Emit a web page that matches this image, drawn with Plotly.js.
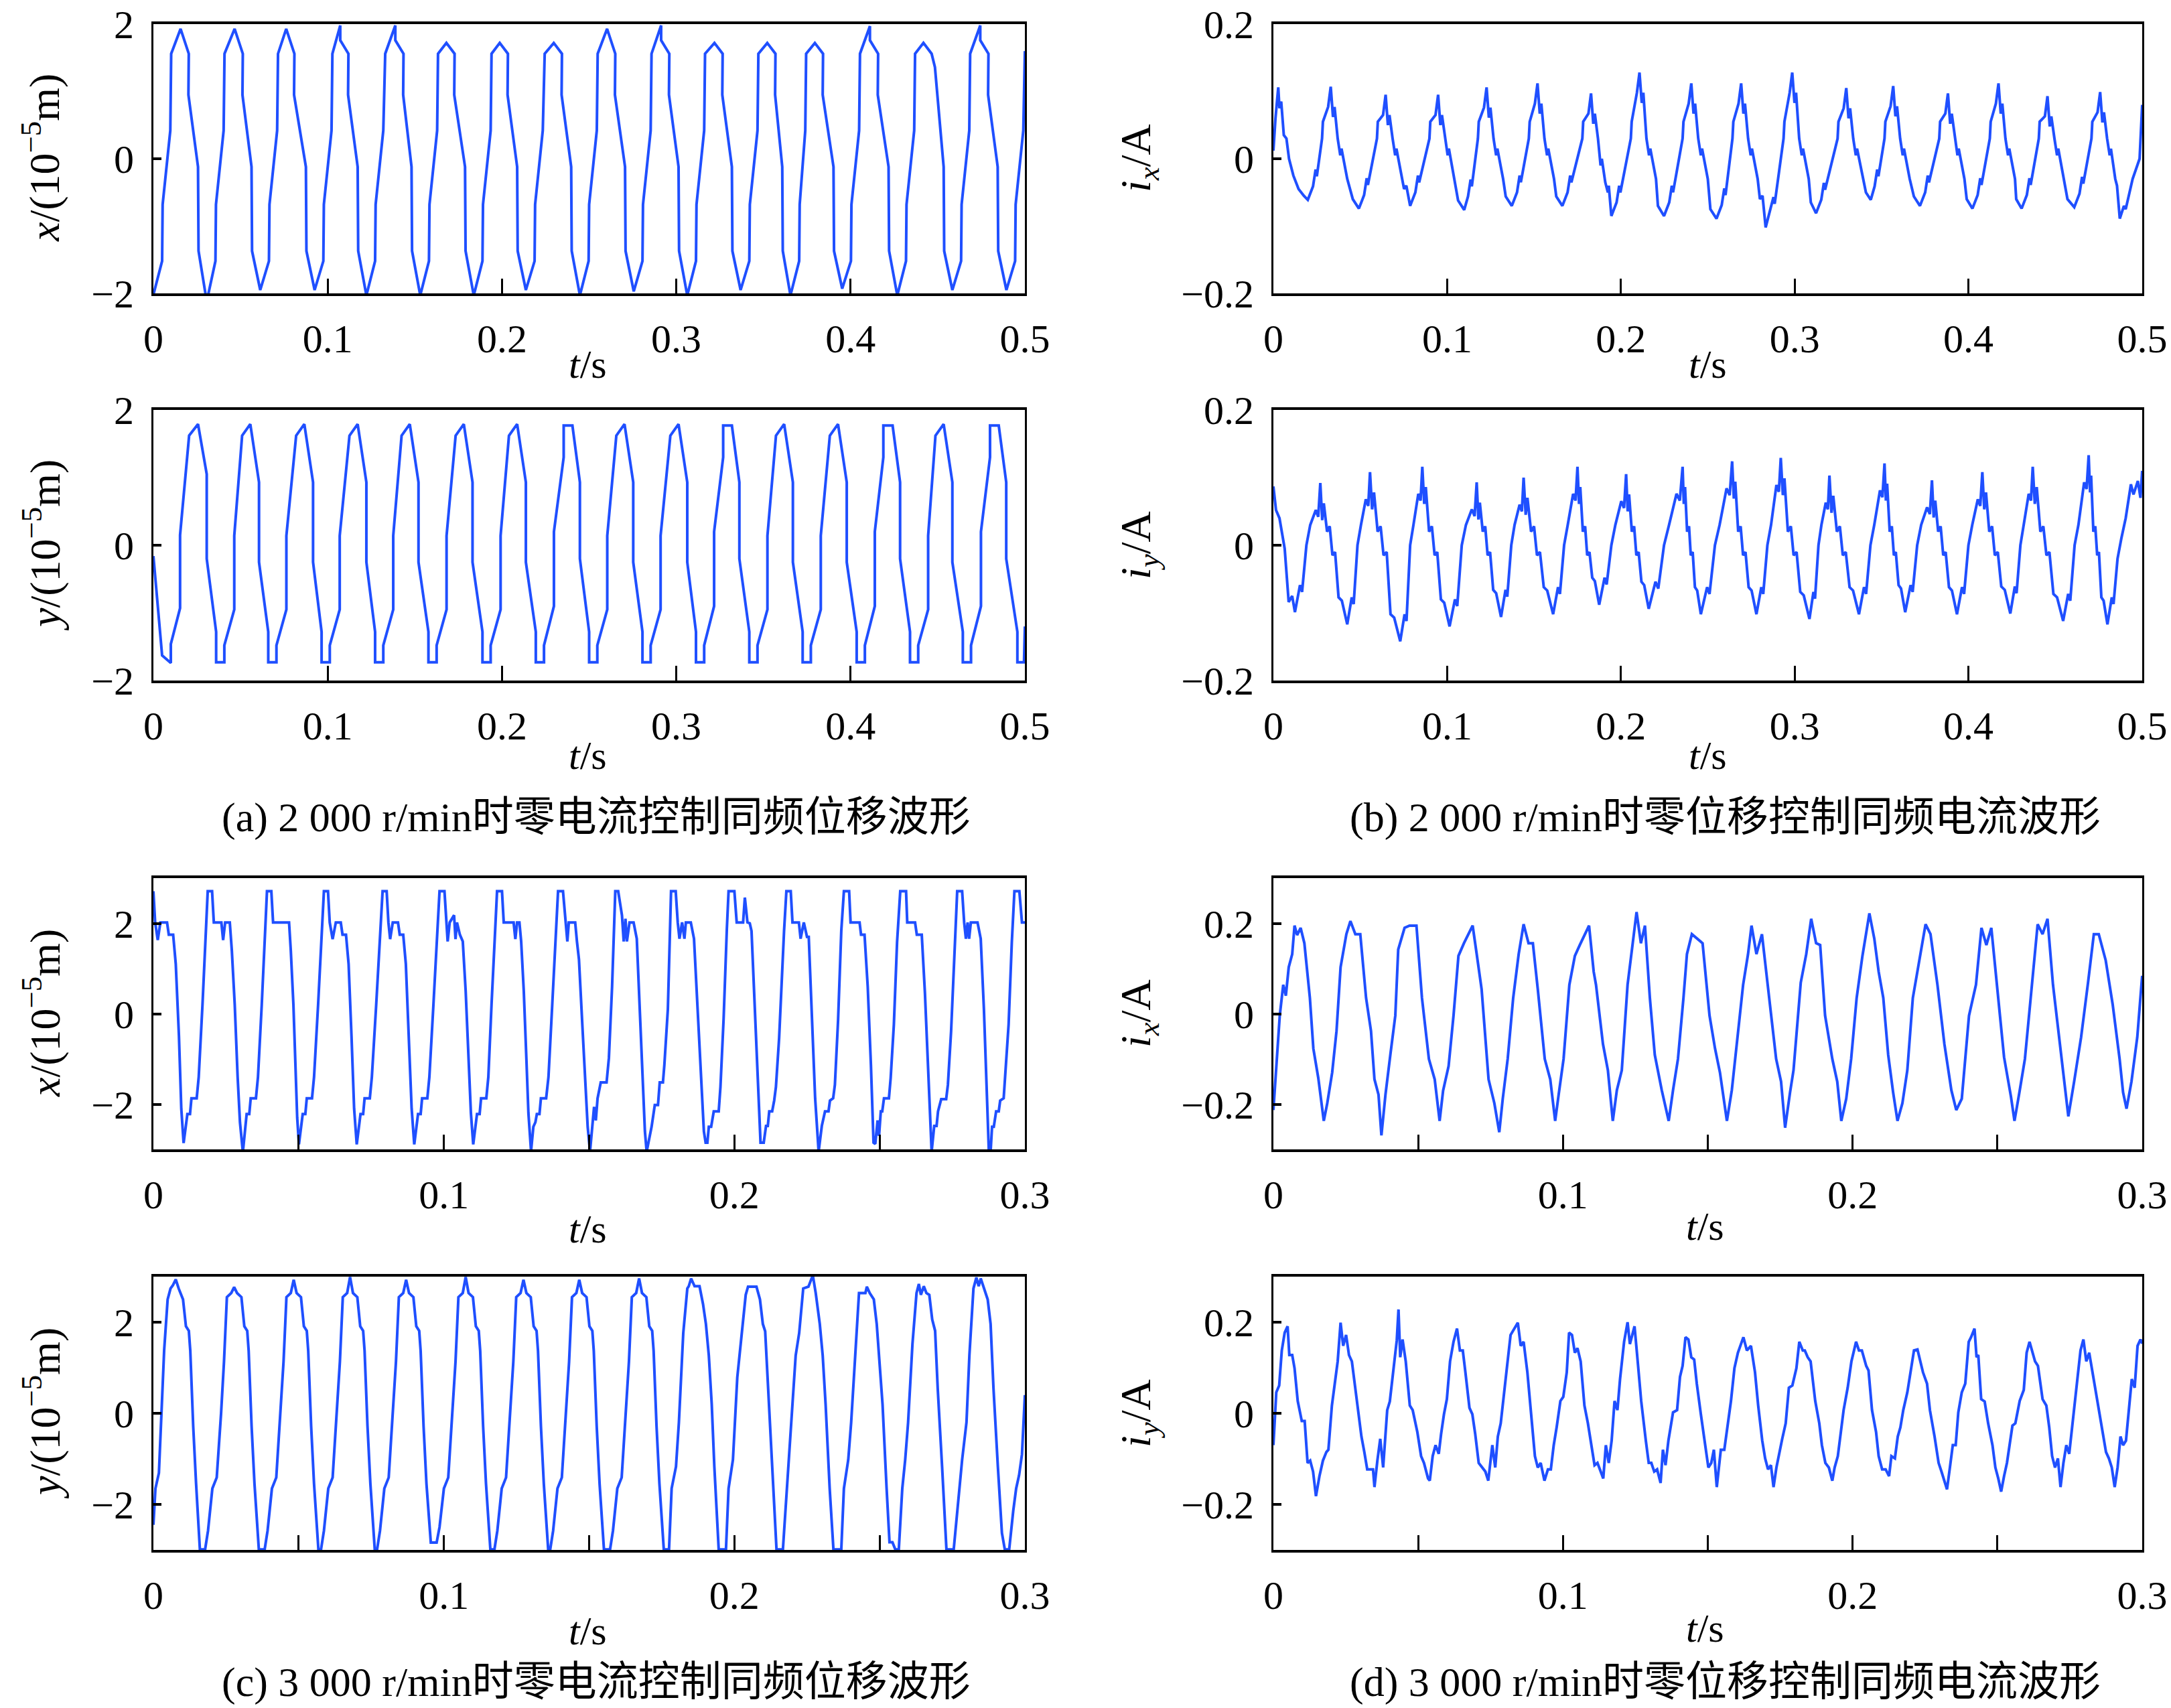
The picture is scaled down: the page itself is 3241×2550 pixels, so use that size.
<!DOCTYPE html>
<html>
<head>
<meta charset="utf-8">
<script src="https://cdn.plot.ly/plotly-3.0.1.min.js"></script>
<style>html,body{margin:0;padding:0;background:#fff;}#chart{width:3241px;height:2550px;}</style>
</head>
<body>
<div id="chart"></div>
<script>
// ---------- tick values / labels ----------
const tickT05 = [0, 0.1, 0.2, 0.3, 0.4, 0.5];
const tickT05Text = ['0', '0.1', '0.2', '0.3', '0.4', '0.5'];
const tickT03 = [0, 0.1, 0.2, 0.3];
const tickT03Text = ['0', '0.1', '0.2', '0.3'];
const tickT03Minor = [0.05, 0.15, 0.25];
const tickDisp = [-2, 0, 2];
const tickDispText = ['\u22122', '0', '2'];
const tickCur = [-0.2, 0, 0.2];
const tickCurText = ['\u22120.2', '0', '0.2'];

// ---------- (a) 2000 r/min, zero-current control: x displacement ----------
const a1Pts = [
[0,-2.02],[0.0050,-1.52],[0.0053,-0.68],[0.0097,0.42],[0.0102,1.56],[0.0156,1.93],[0.0203,1.56],[0.0201,0.95],[0.0256,-0.12],[0.0259,-1.37],[0.0306,-2.12],
[0.0356,-1.52],[0.0359,-0.68],[0.0403,0.42],[0.0408,1.56],[0.0466,1.93],[0.0513,1.56],[0.0511,0.95],[0.0563,-0.12],[0.0566,-1.37],[0.0613,-1.95],
[0.0663,-1.52],[0.0666,-0.68],[0.0710,0.42],[0.0715,1.56],[0.0762,1.93],[0.0809,1.56],[0.0807,0.95],[0.0875,-0.12],[0.0878,-1.37],[0.0925,-1.95],
[0.0975,-1.52],[0.0978,-0.68],[0.1022,0.42],[0.1027,1.56],[0.1072,1.98],[0.1072,1.76],[0.1119,1.56],[0.1117,0.95],[0.1172,-0.12],[0.1175,-1.37],[0.1222,-2.03],
[0.1272,-1.52],[0.1275,-0.68],[0.1319,0.42],[0.1330,1.56],[0.1388,1.98],[0.1388,1.76],[0.1435,1.56],[0.1433,0.95],[0.1481,-0.12],[0.1484,-1.37],[0.1531,-2.03],
[0.1581,-1.52],[0.1584,-0.68],[0.1628,0.42],[0.1633,1.56],[0.1681,1.72],[0.1728,1.56],[0.1726,0.95],[0.1788,-0.12],[0.1791,-1.37],[0.1838,-2.03],
[0.1888,-1.52],[0.1891,-0.68],[0.1935,0.42],[0.1940,1.56],[0.1987,1.72],[0.2034,1.56],[0.2032,0.95],[0.2087,-0.12],[0.2090,-1.37],[0.2137,-1.95],
[0.2187,-1.52],[0.2190,-0.68],[0.2234,0.42],[0.2245,1.56],[0.2297,1.72],[0.2344,1.56],[0.2342,0.95],[0.2397,-0.12],[0.2400,-1.37],[0.2447,-2.03],
[0.2497,-1.52],[0.2500,-0.68],[0.2544,0.42],[0.2549,1.56],[0.2603,1.93],[0.2650,1.56],[0.2648,0.95],[0.2706,-0.12],[0.2709,-1.37],[0.2756,-1.97],
[0.2806,-1.52],[0.2809,-0.68],[0.2853,0.42],[0.2858,1.56],[0.2913,1.98],[0.2913,1.76],[0.2960,1.56],[0.2958,0.95],[0.3013,-0.12],[0.3016,-1.37],[0.3063,-2.03],
[0.3113,-1.52],[0.3116,-0.68],[0.3160,0.42],[0.3165,1.56],[0.3219,1.72],[0.3266,1.56],[0.3264,0.95],[0.3319,-0.12],[0.3322,-1.37],[0.3369,-1.95],
[0.3419,-1.52],[0.3422,-0.68],[0.3466,0.42],[0.3471,1.56],[0.3522,1.72],[0.3569,1.56],[0.3567,0.95],[0.3608,-0.12],[0.3611,-1.37],[0.3655,-2.03],
[0.3705,-1.52],[0.3708,-0.68],[0.3740,0.42],[0.3745,1.56],[0.3795,1.72],[0.3842,1.56],[0.3840,0.95],[0.3902,-0.12],[0.3905,-1.37],[0.3952,-1.93],
[0.4002,-1.52],[0.4005,-0.68],[0.4049,0.42],[0.4054,1.56],[0.4111,1.97],[0.4111,1.76],[0.4158,1.56],[0.4156,0.95],[0.4218,-0.12],[0.4221,-1.37],[0.4268,-2.03],
[0.4318,-1.52],[0.4321,-0.68],[0.4365,0.42],[0.4370,1.56],[0.4418,1.72],[0.4465,1.56],[0.4484,1.36],[0.4534,-0.12],[0.4537,-1.37],[0.4584,-1.95],
[0.4634,-1.52],[0.4637,-0.68],[0.4681,0.42],[0.4686,1.56],[0.4744,1.98],[0.4744,1.76],[0.4791,1.56],[0.4789,0.95],[0.4844,-0.12],[0.4847,-1.37],[0.4894,-1.95],
[0.4944,-1.52],[0.4947,-0.68],[0.4991,0.42],[0.5,1.6]
];

// ---------- (a) y displacement ----------
const a2Pts = [
[0,-0.16],[0.005,-1.63],[0.0100,-1.74],[0.0100,-1.46],[0.0153,-0.93],[0.0153,0.15],[0.0205,1.62],[0.0256,1.79],
[0.0306,1.05],[0.0306,-0.2],[0.0360,-1.28],[0.0360,-1.73],[0.0407,-1.73],
[0.0407,-1.48],[0.0464,-0.95],[0.0464,0.14],[0.0509,1.62],[0.0556,1.79],
[0.0606,0.93],[0.0606,-0.25],[0.0659,-1.28],[0.0659,-1.73],[0.0706,-1.73],
[0.0706,-1.48],[0.0763,-0.95],[0.0763,0.14],[0.0819,1.62],[0.0866,1.79],
[0.0916,0.93],[0.0916,-0.25],[0.0965,-1.28],[0.0965,-1.73],[0.1012,-1.73],
[0.1012,-1.48],[0.1069,-0.95],[0.1069,0.14],[0.1125,1.62],[0.1172,1.79],
[0.1222,0.93],[0.1222,-0.25],[0.1272,-1.28],[0.1272,-1.73],[0.1319,-1.73],
[0.1319,-1.48],[0.1376,-0.95],[0.1376,0.14],[0.1424,1.62],[0.1471,1.79],
[0.1521,0.93],[0.1521,-0.25],[0.1578,-1.28],[0.1578,-1.73],[0.1625,-1.73],
[0.1625,-1.48],[0.1682,-0.95],[0.1682,0.14],[0.1734,1.62],[0.1781,1.79],
[0.1831,0.93],[0.1831,-0.25],[0.1888,-1.28],[0.1888,-1.73],[0.1935,-1.73],
[0.1935,-1.48],[0.1992,-0.95],[0.1992,0.14],[0.2040,1.62],[0.2087,1.79],
[0.2137,0.93],[0.2137,-0.25],[0.2194,-1.28],[0.2194,-1.73],[0.2241,-1.73],
[0.2241,-1.48],[0.2298,-0.9],[0.2298,0.2],[0.2354,1.3],[0.2354,1.77],[0.2404,1.77],
[0.2447,0.93],[0.2447,-0.2],[0.2500,-1.28],[0.2500,-1.73],[0.2547,-1.73],
[0.2547,-1.48],[0.2604,-0.95],[0.2604,0.14],[0.2656,1.62],[0.2703,1.79],
[0.2753,0.93],[0.2753,-0.25],[0.2806,-1.28],[0.2806,-1.73],[0.2853,-1.73],
[0.2853,-1.48],[0.2910,-0.95],[0.2910,0.14],[0.2966,1.62],[0.3013,1.79],
[0.3063,0.93],[0.3063,-0.25],[0.3113,-1.28],[0.3113,-1.73],[0.3160,-1.73],
[0.3160,-1.48],[0.3217,-0.9],[0.3217,0.2],[0.3269,1.3],[0.3269,1.77],[0.3319,1.77],
[0.3362,0.93],[0.3362,-0.2],[0.3419,-1.28],[0.3419,-1.73],[0.3466,-1.73],
[0.3466,-1.48],[0.3523,-0.95],[0.3523,0.14],[0.3572,1.62],[0.3619,1.79],
[0.3669,0.93],[0.3669,-0.25],[0.3725,-1.28],[0.3725,-1.73],[0.3772,-1.73],
[0.3772,-1.48],[0.3829,-0.95],[0.3829,0.14],[0.3881,1.62],[0.3928,1.79],
[0.3978,0.93],[0.3978,-0.25],[0.4035,-1.28],[0.4035,-1.73],[0.4082,-1.73],
[0.4082,-1.48],[0.4139,-0.9],[0.4139,0.2],[0.4188,1.3],[0.4188,1.77],[0.4241,1.77],
[0.4284,0.93],[0.4284,-0.2],[0.4341,-1.28],[0.4341,-1.73],[0.4388,-1.73],
[0.4388,-1.48],[0.4445,-0.95],[0.4445,0.14],[0.4487,1.62],[0.4534,1.79],
[0.4584,0.93],[0.4584,-0.25],[0.4644,-1.28],[0.4644,-1.73],[0.4691,-1.73],
[0.4691,-1.48],[0.4748,-0.9],[0.4748,0.2],[0.4800,1.3],[0.4800,1.77],[0.4850,1.77],
[0.4893,0.93],[0.4893,-0.2],[0.4957,-1.28],[0.4957,-1.73],[0.4995,-1.73],[0.5,-1.2]
];

// ---------- (b) 2000 r/min, zero-displacement control: i_x ----------
const b1Pts = [
[0,0.012],[0.0012,0.06],[0.0028,0.106],[0.0035,0.075],[0.0045,0.085],[0.006,0.035],[0.0075,0.03],[0.009,0.0],[0.0115,-0.025],[0.0145,-0.045],[0.0175,-0.055],
[0.0198,-0.061],[0.0228,-0.041],[0.0243,-0.016],[0.0250,-0.026],[0.0280,0.03],[0.0285,0.055],[0.0315,0.077],[0.0330,0.107],[0.0343,0.062],[0.0352,0.077],[0.0370,0.03],[0.0385,0.005],[0.0392,0.015],[0.0425,-0.03],[0.0457,-0.06],
[0.0492,-0.074],[0.0522,-0.054],[0.0537,-0.029],[0.0544,-0.039],[0.0596,0.03],[0.0601,0.055],[0.0631,0.065],[0.0646,0.095],[0.0659,0.05],[0.0668,0.065],[0.0686,0.03],[0.0701,0.005],[0.0708,0.015],[0.0741,-0.03],[0.0752,-0.045],[0.0765,-0.04],
[0.0787,-0.070],[0.0817,-0.05],[0.0832,-0.025],[0.0839,-0.035],[0.0898,0.03],[0.0903,0.055],[0.0933,0.065],[0.0948,0.095],[0.0961,0.05],[0.0970,0.065],[0.0988,0.03],[0.1003,0.005],[0.1010,0.015],[0.1043,-0.03],[0.1063,-0.062],
[0.1098,-0.076],[0.1120,-0.056],[0.1135,-0.031],[0.1142,-0.041],[0.1177,0.03],[0.1182,0.055],[0.1212,0.076],[0.1227,0.106],[0.1240,0.061],[0.1249,0.076],[0.1267,0.03],[0.1282,0.005],[0.1289,0.015],[0.1322,-0.03],[0.1337,-0.056],
[0.1372,-0.070],[0.1402,-0.05],[0.1417,-0.025],[0.1424,-0.035],[0.1470,0.03],[0.1475,0.055],[0.1505,0.082],[0.1520,0.112],[0.1533,0.067],[0.1542,0.082],[0.1560,0.03],[0.1575,0.005],[0.1582,0.015],[0.1615,-0.03],[0.1628,-0.056],
[0.1663,-0.070],[0.1693,-0.05],[0.1708,-0.025],[0.1715,-0.035],[0.1778,0.03],[0.1783,0.055],[0.1813,0.067],[0.1828,0.097],[0.1841,0.052],[0.1850,0.067],[0.1868,0.03],[0.1883,-0.01],[0.1890,0.0],[0.1910,-0.035],[0.1925,-0.05],[0.1930,-0.04],
[0.1945,-0.085],[0.1975,-0.065],[0.1990,-0.04],[0.1997,-0.05],[0.2057,0.03],[0.2062,0.055],[0.2092,0.098],[0.2107,0.128],[0.2120,0.083],[0.2129,0.098],[0.2147,0.03],[0.2162,0.005],[0.2169,0.015],[0.2202,-0.03],[0.2213,-0.07],
[0.2248,-0.085],[0.2278,-0.065],[0.2293,-0.04],[0.2300,-0.05],[0.2355,0.03],[0.2360,0.055],[0.2390,0.082],[0.2405,0.112],[0.2418,0.067],[0.2427,0.082],[0.2445,0.03],[0.2460,0.005],[0.2467,0.015],[0.2500,-0.03],[0.2515,-0.075],
[0.2550,-0.089],[0.2580,-0.069],[0.2595,-0.044],[0.2602,-0.054],[0.2642,0.03],[0.2647,0.055],[0.2677,0.082],[0.2692,0.112],[0.2705,0.067],[0.2714,0.082],[0.2732,0.03],[0.2747,0.005],[0.2754,0.015],[0.2787,-0.03],[0.2800,-0.06],[0.2815,-0.055],
[0.2833,-0.102],[0.2863,-0.072],[0.2878,-0.057],[0.2885,-0.067],[0.2936,0.03],[0.2941,0.055],[0.2971,0.098],[0.2986,0.128],[0.2999,0.083],[0.3008,0.098],[0.3026,0.03],[0.3041,0.005],[0.3048,0.015],[0.3081,-0.03],[0.3093,-0.065],
[0.3123,-0.081],[0.3153,-0.061],[0.3168,-0.036],[0.3175,-0.046],[0.3247,0.03],[0.3252,0.055],[0.3282,0.075],[0.3297,0.105],[0.3310,0.06],[0.3319,0.075],[0.3337,0.03],[0.3352,0.005],[0.3359,0.015],[0.3392,-0.03],[0.3410,-0.05],
[0.3438,-0.061],[0.3460,-0.041],[0.3475,-0.016],[0.3482,-0.026],[0.3517,0.03],[0.3522,0.055],[0.3552,0.078],[0.3567,0.108],[0.3580,0.063],[0.3589,0.078],[0.3607,0.03],[0.3622,0.005],[0.3629,0.015],[0.3662,-0.03],[0.3686,-0.056],
[0.3721,-0.070],[0.3751,-0.05],[0.3766,-0.025],[0.3773,-0.035],[0.3832,0.03],[0.3837,0.055],[0.3867,0.067],[0.3882,0.097],[0.3895,0.052],[0.3904,0.067],[0.3922,0.03],[0.3937,0.005],[0.3944,0.015],[0.3977,-0.03],[0.3990,-0.06],
[0.4023,-0.074],[0.4053,-0.054],[0.4068,-0.029],[0.4075,-0.039],[0.4123,0.03],[0.4128,0.055],[0.4158,0.082],[0.4173,0.112],[0.4186,0.067],[0.4195,0.082],[0.4213,0.03],[0.4228,0.005],[0.4235,0.015],[0.4268,-0.03],[0.4275,-0.06],
[0.4306,-0.074],[0.4336,-0.054],[0.4351,-0.029],[0.4358,-0.039],[0.4405,0.03],[0.4410,0.055],[0.4440,0.063],[0.4455,0.093],[0.4468,0.048],[0.4477,0.063],[0.4495,0.03],[0.4510,0.005],[0.4517,0.015],[0.4550,-0.03],[0.4570,-0.06],
[0.4609,-0.072],[0.4639,-0.052],[0.4654,-0.027],[0.4661,-0.037],[0.4708,0.03],[0.4713,0.055],[0.4743,0.069],[0.4758,0.099],[0.4771,0.054],[0.4780,0.069],[0.4798,0.03],[0.4813,0.005],[0.4820,0.015],[0.4845,-0.03],[0.4855,-0.04],
[0.4871,-0.089],[0.4895,-0.07],[0.4905,-0.075],[0.4945,-0.03],[0.4975,-0.005],[0.4985,0.0],[0.5,0.08]
];

// ---------- (b) i_y ----------
const b2Pts = [
[0,0.087],[0.0015,0.052],[0.0035,0.04],[0.0065,-0.005],[0.0088,-0.084],[0.0108,-0.075],[0.0124,-0.099],
[0.0153,-0.059],[0.0165,-0.069],[0.0190,0.0],[0.0212,0.03],[0.0244,0.052],[0.0258,0.042],[0.0270,0.092],[0.0281,0.037],[0.0290,0.062],[0.0309,0.02],[0.0324,0.028],[0.0340,-0.015],[0.0355,-0.01],[0.0375,-0.077],[0.0394,-0.082],[0.0425,-0.117],
[0.0451,-0.077],[0.0462,-0.087],[0.0484,0.0],[0.0504,0.03],[0.0532,0.068],[0.0546,0.058],[0.0556,0.108],[0.0568,0.053],[0.0579,0.078],[0.0600,0.02],[0.0617,0.028],[0.0634,-0.015],[0.0652,-0.01],[0.0674,-0.102],[0.0695,-0.107],[0.0730,-0.142],
[0.0755,-0.102],[0.0766,-0.112],[0.0787,0.0],[0.0806,0.03],[0.0834,0.076],[0.0847,0.066],[0.0857,0.116],[0.0868,0.061],[0.0877,0.086],[0.0896,0.02],[0.0912,0.028],[0.0928,-0.015],[0.0943,-0.01],[0.0964,-0.08],[0.0983,-0.085],[0.1014,-0.120],
[0.1045,-0.08],[0.1058,-0.09],[0.1084,0.0],[0.1108,0.03],[0.1142,0.053],[0.1158,0.043],[0.1170,0.093],[0.1180,0.038],[0.1188,0.063],[0.1205,0.02],[0.1219,0.028],[0.1233,-0.015],[0.1247,-0.01],[0.1265,-0.066],[0.1282,-0.071],[0.1310,-0.106],
[0.1336,-0.066],[0.1346,-0.076],[0.1369,0.0],[0.1388,0.03],[0.1417,0.06],[0.1430,0.05],[0.1440,0.1],[0.1452,0.045],[0.1462,0.07],[0.1483,0.02],[0.1500,0.028],[0.1517,-0.015],[0.1534,-0.01],[0.1556,-0.062],[0.1576,-0.067],[0.1610,-0.102],
[0.1638,-0.062],[0.1649,-0.072],[0.1673,0.0],[0.1694,0.03],[0.1725,0.076],[0.1739,0.066],[0.1750,0.116],[0.1759,0.061],[0.1766,0.086],[0.1781,0.02],[0.1794,0.028],[0.1806,-0.015],[0.1819,-0.01],[0.1835,-0.048],[0.1850,-0.053],[0.1875,-0.088],
[0.1906,-0.048],[0.1918,-0.058],[0.1945,0.0],[0.1968,0.03],[0.2002,0.065],[0.2018,0.055],[0.2030,0.105],[0.2039,0.05],[0.2047,0.075],[0.2063,0.02],[0.2076,0.028],[0.2089,-0.015],[0.2102,-0.01],[0.2118,-0.054],[0.2134,-0.059],[0.2160,-0.094],
[0.2199,-0.054],[0.2215,-0.064],[0.2248,0.0],[0.2277,0.03],[0.2320,0.076],[0.2339,0.066],[0.2355,0.116],[0.2362,0.061],[0.2369,0.086],[0.2381,0.02],[0.2392,0.028],[0.2402,-0.015],[0.2413,-0.01],[0.2426,-0.062],[0.2439,-0.067],[0.2460,-0.102],
[0.2496,-0.062],[0.2510,-0.072],[0.2541,0.0],[0.2568,0.03],[0.2608,0.084],[0.2626,0.074],[0.2640,0.124],[0.2650,0.069],[0.2658,0.094],[0.2675,0.02],[0.2689,0.028],[0.2703,-0.015],[0.2717,-0.01],[0.2735,-0.062],[0.2752,-0.067],[0.2780,-0.102],
[0.2808,-0.062],[0.2819,-0.072],[0.2843,0.0],[0.2864,0.03],[0.2895,0.089],[0.2909,0.079],[0.2920,0.129],[0.2932,0.074],[0.2941,0.099],[0.2961,0.02],[0.2978,0.028],[0.2994,-0.015],[0.3011,-0.01],[0.3032,-0.069],[0.3052,-0.074],[0.3085,-0.109],
[0.3108,-0.069],[0.3117,-0.079],[0.3137,0.0],[0.3154,0.03],[0.3179,0.063],[0.3191,0.053],[0.3200,0.103],[0.3212,0.048],[0.3222,0.073],[0.3243,0.02],[0.3260,0.028],[0.3277,-0.015],[0.3294,-0.01],[0.3316,-0.062],[0.3336,-0.067],[0.3370,-0.102],
[0.3399,-0.062],[0.3411,-0.072],[0.3436,0.0],[0.3458,0.03],[0.3491,0.081],[0.3505,0.071],[0.3517,0.121],[0.3525,0.066],[0.3532,0.091],[0.3547,0.02],[0.3559,0.028],[0.3571,-0.015],[0.3582,-0.01],[0.3598,-0.059],[0.3612,-0.064],[0.3636,-0.099],
[0.3667,-0.059],[0.3679,-0.069],[0.3705,0.0],[0.3728,0.03],[0.3762,0.056],[0.3778,0.046],[0.3790,0.096],[0.3800,0.041],[0.3809,0.066],[0.3826,0.02],[0.3840,0.028],[0.3855,-0.015],[0.3869,-0.01],[0.3888,-0.062],[0.3905,-0.067],[0.3934,-0.102],
[0.3963,-0.062],[0.3975,-0.072],[0.4000,0.0],[0.4022,0.03],[0.4054,0.068],[0.4068,0.058],[0.4080,0.108],[0.4091,0.053],[0.4101,0.078],[0.4120,0.02],[0.4136,0.028],[0.4152,-0.015],[0.4169,-0.01],[0.4189,-0.061],[0.4209,-0.066],[0.4241,-0.101],
[0.4267,-0.061],[0.4277,-0.071],[0.4299,0.0],[0.4318,0.03],[0.4347,0.076],[0.4360,0.066],[0.4370,0.116],[0.4382,0.061],[0.4393,0.086],[0.4414,0.02],[0.4431,0.028],[0.4449,-0.015],[0.4466,-0.01],[0.4489,-0.072],[0.4510,-0.077],[0.4545,-0.112],
[0.4574,-0.072],[0.4586,-0.082],[0.4611,0.0],[0.4633,0.03],[0.4666,0.093],[0.4680,0.083],[0.4692,0.133],[0.4700,0.078],[0.4706,0.103],[0.4719,0.02],[0.4730,0.028],[0.4741,-0.015],[0.4751,-0.01],[0.4765,-0.077],[0.4778,-0.082],[0.4800,-0.117],
[0.4825,-0.077],[0.4835,-0.087],[0.4858,-0.02],[0.4880,0.01],[0.4905,0.04],[0.4935,0.09],[0.4950,0.075],[0.4975,0.095],[0.4990,0.07],[0.5,0.11]
];

// ---------- (c) 3000 r/min, zero-current control: x displacement ----------
const c1Pts = [
[0,2.71],[0.0006,2.02],[0.0015,1.63],[0.0024,2.02],[0.0047,2.02],[0.0053,1.75],[0.0068,1.75],[0.0077,1.1],[0.0088,-0.5],[0.0096,-2.1],[0.0104,-2.86],
[0.0112,-2.45],[0.0117,-2.22],[0.0126,-2.22],[0.0131,-1.87],[0.0149,-1.87],[0.0156,-1.4],[0.0169,0.2],[0.0179,1.5],[0.0187,2.71],
[0.0202,2.71],[0.0208,2.02],[0.0234,2.02],[0.0240,1.63],[0.0247,2.02],[0.0263,2.02],[0.0270,1.4],[0.0280,0.2],[0.0290,-1.4],[0.0298,-2.4],[0.0308,-3.06],
[0.0316,-2.5],[0.0321,-2.22],[0.0330,-2.22],[0.0335,-1.87],[0.0353,-1.87],[0.0360,-1.4],[0.0373,0.2],[0.0383,1.5],[0.0391,2.71],
[0.0406,2.71],[0.0412,2.02],[0.0467,2.02],[0.0473,1.4],[0.0482,0.2],[0.0490,-1.4],[0.0495,-2.3],[0.0501,-2.89],
[0.0509,-2.45],[0.0514,-2.22],[0.0523,-2.22],[0.0528,-1.87],[0.0546,-1.87],[0.0553,-1.4],[0.0567,0.2],[0.0578,1.5],[0.0587,2.71],
[0.0601,2.71],[0.0607,2.02],[0.0617,1.65],[0.0628,2.02],[0.0645,2.02],[0.0651,1.75],[0.0663,1.75],[0.0672,1.1],[0.0682,-0.5],[0.0691,-2.1],[0.0700,-2.89],
[0.0708,-2.45],[0.0713,-2.22],[0.0722,-2.22],[0.0727,-1.87],[0.0745,-1.87],[0.0752,-1.4],[0.0767,0.2],[0.0779,1.5],[0.0789,2.71],
[0.0803,2.71],[0.0809,2.02],[0.0815,1.65],[0.0824,2.02],[0.0842,2.02],[0.0848,1.75],[0.0860,1.75],[0.0869,1.1],[0.0879,-0.5],[0.0889,-2.1],[0.0898,-2.89],
[0.0906,-2.45],[0.0911,-2.22],[0.0920,-2.22],[0.0925,-1.87],[0.0943,-1.87],[0.0950,-1.4],[0.0964,0.2],[0.0975,1.5],[0.0985,2.71],
[0.1002,2.71],[0.1008,2.02],[0.1013,1.6],[0.1020,2.02],[0.1035,2.18],[0.1040,1.65],[0.1045,2.02],[0.1055,1.75],[0.1065,1.6],[0.1075,0.5],[0.1085,-1.0],[0.1093,-2.2],[0.1101,-2.89],
[0.1109,-2.45],[0.1114,-2.22],[0.1123,-2.22],[0.1128,-1.87],[0.1146,-1.87],[0.1153,-1.4],[0.1164,0.2],[0.1174,1.5],[0.1183,2.71],
[0.1200,2.71],[0.1206,2.02],[0.1240,2.02],[0.1246,1.65],[0.1252,2.02],[0.1260,2.02],[0.1266,1.6],[0.1275,0.5],[0.1284,-1.0],[0.1291,-2.2],[0.1300,-3.04],
[0.1308,-2.5],[0.1315,-2.4],[0.1320,-2.22],[0.1329,-2.22],[0.1334,-1.87],[0.1352,-1.87],[0.1360,-1.4],[0.1373,0.2],[0.1384,1.5],[0.1393,2.71],
[0.1410,2.71],[0.1420,2.02],[0.1425,1.6],[0.1430,2.02],[0.1452,2.02],[0.1458,1.6],[0.1465,1.2],[0.1477,-0.3],[0.1487,-1.5],[0.1495,-2.5],[0.1503,-3.05],
[0.1512,-2.3],[0.1517,-2.06],[0.1523,-2.36],[0.1529,-1.87],[0.1540,-1.52],[0.1560,-1.52],[0.1568,-0.98],[0.1579,0.6],[0.1590,2.71],
[0.1600,2.71],[0.1613,2.18],[0.1619,1.6],[0.1625,2.1],[0.1630,1.6],[0.1639,2.02],[0.1653,2.02],[0.1664,1.66],[0.1675,0.1],[0.1686,-1.62],[0.1692,-2.6],[0.1698,-3.05],
[0.1715,-2.5],[0.1726,-2.02],[0.1737,-2.02],[0.1743,-1.52],[0.1754,-1.52],[0.1759,-1.13],[0.1771,0.1],[0.1782,2.71],
[0.1798,2.71],[0.1805,2.02],[0.1811,1.66],[0.1820,2.02],[0.1828,1.66],[0.1833,2.02],[0.1850,2.02],[0.1861,1.66],[0.1873,0.1],[0.1884,-1.37],[0.1895,-2.6],[0.1901,-2.85],[0.1907,-2.85],
[0.1912,-2.5],[0.1920,-2.5],[0.1929,-2.16],[0.1946,-2.16],[0.1952,-1.62],[0.1963,-0.1],[0.1974,1.87],[0.1980,2.71],
[0.2000,2.71],[0.2008,2.02],[0.2030,2.02],[0.2036,2.57],[0.2045,2.02],[0.2053,2.0],[0.2059,1.83],[0.2070,0.1],[0.2081,-1.62],[0.2090,-2.85],[0.2101,-2.85],
[0.2109,-2.48],[0.2115,-2.48],[0.2120,-2.16],[0.2130,-2.16],[0.2137,-1.92],[0.2143,-1.62],[0.2154,-0.54],[0.2171,1.83],[0.2179,2.71],
[0.2194,2.71],[0.2200,2.02],[0.2222,2.02],[0.2228,1.66],[0.2239,2.02],[0.2250,1.7],[0.2256,1.7],[0.2267,-0.14],[0.2278,-1.87],[0.2290,-3.05],
[0.2301,-2.48],[0.2312,-2.16],[0.2324,-2.16],[0.2329,-1.92],[0.2340,-1.87],[0.2346,-1.57],[0.2357,-0.14],[0.2368,1.83],[0.2377,2.71],
[0.2395,2.71],[0.2400,2.02],[0.2431,2.02],[0.2436,1.75],[0.2448,1.75],[0.2459,0.6],[0.2470,-1.13],[0.2479,-2.85],[0.2485,-2.88],
[0.2493,-2.36],[0.2498,-2.7],[0.2504,-2.16],[0.2509,-2.16],[0.2515,-1.87],[0.2532,-1.87],[0.2538,-1.42],[0.2549,-0.24],[0.2560,1.58],[0.2571,2.71],
[0.2591,2.71],[0.2595,2.02],[0.2622,2.02],[0.2628,1.75],[0.2645,1.75],[0.2656,0.45],[0.2667,-1.37],[0.2679,-3.05],
[0.2688,-2.48],[0.2696,-2.48],[0.2701,-2.16],[0.2712,-1.89],[0.2729,-1.89],[0.2735,-1.57],[0.2746,-0.39],[0.2758,1.58],[0.2767,2.71],
[0.2784,2.71],[0.2791,2.02],[0.2797,1.66],[0.2803,2.02],[0.2808,1.66],[0.2814,2.02],[0.2837,2.02],[0.2848,1.66],[0.2859,0.1],[0.2868,-1.62],[0.2876,-3.05],
[0.2882,-3.05],[0.2887,-2.5],[0.2893,-2.5],[0.2901,-2.16],[0.2910,-2.16],[0.2915,-1.92],[0.2927,-1.87],[0.2932,-1.42],[0.2944,-0.24],[0.2955,1.58],[0.2964,2.71],
[0.2981,2.71],[0.2990,2.02],[0.3,2.02]
];

// ---------- (c) y displacement ----------
const c2Pts = [
[0,-2.45],[0.0007,-1.65],[0.0019,-1.31],[0.0027,-0.19],[0.0037,1.38],[0.0049,2.5],[0.0059,2.74],[0.0067,2.81],[0.0077,2.94],
[0.0087,2.74],[0.0102,2.5],[0.0112,1.91],[0.0122,1.81],[0.0127,1.37],[0.0137,-0.28],[0.0147,-1.55],[0.0160,-2.99],
[0.0178,-2.99],[0.0188,-2.58],[0.0203,-1.65],[0.0218,-1.41],[0.0233,0.0],[0.0243,1.13],[0.0253,2.55],[0.0268,2.64],[0.0278,2.77],
[0.0288,2.64],[0.0303,2.55],[0.0313,1.91],[0.0323,1.81],[0.0328,1.37],[0.0338,-0.28],[0.0348,-1.55],[0.0363,-2.99],
[0.0383,-2.99],[0.0393,-2.58],[0.0408,-1.65],[0.0423,-1.41],[0.0438,0.0],[0.0448,1.13],[0.0458,2.55],[0.0473,2.64],[0.0483,2.93],
[0.0493,2.64],[0.0508,2.55],[0.0518,1.91],[0.0528,1.81],[0.0533,1.37],[0.0543,-0.28],[0.0553,-1.55],[0.0568,-2.99],
[0.0577,-2.99],[0.0587,-2.58],[0.0602,-1.65],[0.0617,-1.41],[0.0632,0.0],[0.0642,1.13],[0.0652,2.55],[0.0667,2.64],[0.0677,2.99],
[0.0687,2.64],[0.0702,2.55],[0.0712,1.91],[0.0722,1.81],[0.0727,1.37],[0.0737,-0.28],[0.0747,-1.55],[0.0762,-2.99],
[0.0770,-2.99],[0.0780,-2.58],[0.0795,-1.65],[0.0810,-1.41],[0.0825,0.0],[0.0835,1.13],[0.0845,2.55],[0.0860,2.64],[0.0870,2.93],
[0.0880,2.64],[0.0895,2.55],[0.0905,1.91],[0.0915,1.81],[0.0920,1.37],[0.0930,-0.28],[0.0940,-1.55],[0.0955,-2.84],
[0.0975,-2.84],[0.0985,-2.5],[0.1000,-1.65],[0.1015,-1.41],[0.1030,0.0],[0.1040,1.13],[0.1050,2.55],[0.1065,2.64],[0.1075,2.99],
[0.1085,2.64],[0.1100,2.55],[0.1110,1.91],[0.1120,1.81],[0.1125,1.37],[0.1135,-0.28],[0.1145,-1.55],[0.1160,-2.99],
[0.1174,-2.99],[0.1184,-2.58],[0.1199,-1.65],[0.1214,-1.41],[0.1229,0.0],[0.1239,1.13],[0.1249,2.55],[0.1264,2.64],[0.1274,2.93],
[0.1284,2.64],[0.1299,2.55],[0.1309,1.91],[0.1319,1.81],[0.1324,1.37],[0.1334,-0.28],[0.1344,-1.55],[0.1359,-2.99],
[0.1366,-2.99],[0.1376,-2.58],[0.1391,-1.65],[0.1406,-1.41],[0.1421,0.0],[0.1431,1.13],[0.1441,2.55],[0.1456,2.64],[0.1466,2.93],
[0.1476,2.64],[0.1491,2.55],[0.1501,1.91],[0.1511,1.81],[0.1516,1.37],[0.1526,-0.28],[0.1536,-1.55],[0.1551,-2.99],
[0.1572,-2.99],[0.1582,-2.58],[0.1597,-1.65],[0.1612,-1.41],[0.1627,0.0],[0.1637,1.13],[0.1647,2.55],[0.1662,2.64],[0.1672,2.96],
[0.1682,2.64],[0.1697,2.55],[0.1707,1.91],[0.1717,1.81],[0.1722,1.37],[0.1732,-0.28],[0.1742,-1.55],[0.1757,-2.99],
[0.1775,-2.99],[0.1784,-1.65],[0.1799,-1.17],[0.1809,-0.2],[0.1824,1.76],[0.1838,2.74],[0.1843,2.79],[0.1851,2.96],
[0.1863,2.79],[0.1880,2.79],[0.1892,2.4],[0.1902,1.96],[0.1912,1.27],[0.1922,0.2],[0.1931,-1.17],[0.1946,-2.99],
[0.1971,-2.99],[0.1980,-1.65],[0.1995,-1.02],[0.2010,0.79],[0.2025,1.76],[0.2039,2.6],[0.2047,2.78],[0.2076,2.78],
[0.2088,2.5],[0.2098,1.96],[0.2106,1.8],[0.2118,0.3],[0.2132,-1.65],[0.2145,-2.99],
[0.2167,-2.99],[0.2176,-2.14],[0.2186,-1.17],[0.2196,-0.2],[0.2211,1.27],[0.2223,1.76],[0.2237,2.74],[0.2255,2.78],[0.2270,3.03],
[0.2280,2.64],[0.2294,1.96],[0.2304,1.27],[0.2314,0.2],[0.2328,-1.65],[0.2341,-2.99],
[0.2368,-2.99],[0.2377,-1.65],[0.2392,-1.02],[0.2402,-0.2],[0.2416,1.27],[0.2429,2.64],[0.2451,2.64],[0.2456,2.78],[0.2466,2.64],
[0.2480,2.5],[0.2490,1.96],[0.2500,1.17],[0.2510,0.2],[0.2524,-1.65],[0.2534,-2.83],[0.2544,-2.83],[0.2554,-2.99],[0.2566,-2.99],
[0.2578,-1.65],[0.2588,-1.02],[0.2598,-0.2],[0.2613,1.52],[0.2627,2.64],[0.2635,2.84],[0.2642,2.6],[0.2652,2.79],[0.2661,2.64],
[0.2671,2.6],[0.2681,2.06],[0.2691,1.81],[0.2700,0.54],[0.2715,-1.17],[0.2730,-2.99],[0.2755,-2.99],
[0.2774,-1.65],[0.2784,-1.02],[0.2799,-0.2],[0.2809,1.27],[0.2823,2.74],[0.2833,2.98],[0.2841,2.79],[0.2848,2.96],[0.2857,2.79],
[0.2872,2.5],[0.2882,1.96],[0.2892,0.54],[0.2907,-1.17],[0.2921,-2.63],[0.2931,-2.99],[0.2946,-2.99],
[0.2960,-2.14],[0.2970,-1.65],[0.2980,-1.36],[0.2990,-0.9],[0.3,0.4]
];

// ---------- (d) 3000 r/min, zero-displacement control: i_x ----------
const d1Pts = [
[0,-0.213],[0.001,-0.125],[0.0022,-0.004],[0.0034,0.064],[0.0043,0.04],[0.0053,0.103],[0.0065,0.132],[0.0073,0.195],[0.0082,0.174],[0.0094,0.19],[0.0107,0.156],[0.0126,0.035],[0.0138,-0.077],[0.0155,-0.142],[0.0174,-0.237],
[0.0186,-0.198],[0.0203,-0.13],[0.0218,-0.038],[0.0232,0.103],[0.0252,0.176],[0.0266,0.205],[0.0283,0.176],[0.0300,0.176],[0.0320,0.035],[0.0337,-0.038],[0.0349,-0.145],[0.0363,-0.179],[0.0373,-0.269],
[0.0387,-0.179],[0.0404,-0.09],[0.0421,-0.004],[0.0431,0.142],[0.0453,0.19],[0.0470,0.195],[0.0494,0.195],[0.0513,0.035],[0.0537,-0.1],[0.0557,-0.145],[0.0574,-0.237],
[0.0586,-0.17],[0.0605,-0.116],[0.0622,-0.004],[0.0639,0.128],[0.0658,0.156],[0.0688,0.195],[0.0702,0.132],[0.0719,0.054],[0.0743,-0.145],[0.0763,-0.198],[0.0780,-0.262],
[0.0792,-0.188],[0.0809,-0.1],[0.0828,0.035],[0.0847,0.132],[0.0864,0.198],[0.0881,0.156],[0.0896,0.156],[0.0913,0.054],[0.0937,-0.1],[0.0956,-0.145],[0.0973,-0.237],
[0.0985,-0.179],[0.1002,-0.1],[0.1022,0.064],[0.1041,0.128],[0.1058,0.152],[0.1090,0.195],[0.1106,0.093],[0.1114,0.064],[0.1138,-0.067],[0.1155,-0.125],[0.1172,-0.237],
[0.1186,-0.169],[0.1203,-0.125],[0.1223,0.064],[0.1240,0.152],[0.1254,0.225],[0.1269,0.156],[0.1283,0.195],[0.1300,0.035],[0.1317,-0.091],[0.1341,-0.169],[0.1365,-0.237],
[0.1380,-0.169],[0.1397,-0.1],[0.1416,0.035],[0.1428,0.132],[0.1445,0.176],[0.1482,0.156],[0.1506,-0.004],[0.1525,-0.077],[0.1542,-0.13],[0.1566,-0.237],
[0.1583,-0.169],[0.1603,-0.052],[0.1622,0.064],[0.1639,0.132],[0.1651,0.195],[0.1668,0.132],[0.1687,0.176],[0.1712,0.035],[0.1736,-0.1],[0.1753,-0.15],[0.1767,-0.252],
[0.1784,-0.174],[0.1796,-0.125],[0.1821,0.069],[0.1840,0.132],[0.1857,0.21],[0.1874,0.156],[0.1888,0.152],[0.1905,-0.004],[0.1930,-0.1],[0.1947,-0.15],[0.1961,-0.237],
[0.1978,-0.188],[0.1995,-0.1],[0.2014,0.035],[0.2034,0.128],[0.2058,0.222],[0.2075,0.166],[0.2090,0.093],[0.2106,0.035],[0.2123,-0.091],[0.2140,-0.174],[0.2155,-0.237],
[0.2172,-0.198],[0.2189,-0.125],[0.2208,0.035],[0.2232,0.128],[0.2252,0.198],[0.2269,0.176],[0.2293,0.064],[0.2317,-0.067],[0.2341,-0.169],[0.2358,-0.213],
[0.2377,-0.188],[0.2402,-0.004],[0.2426,0.064],[0.2445,0.19],[0.2462,0.152],[0.2479,0.19],[0.2498,0.064],[0.2523,-0.096],[0.2547,-0.184],[0.2559,-0.237],
[0.2576,-0.174],[0.2595,-0.1],[0.2615,0.035],[0.2639,0.198],[0.2656,0.176],[0.2673,0.21],[0.2692,0.064],[0.2716,-0.072],[0.2736,-0.174],[0.2745,-0.227],
[0.2765,-0.15],[0.2789,-0.052],[0.2813,0.069],[0.2833,0.176],[0.2850,0.176],[0.2874,0.118],[0.2898,0.021],[0.2922,-0.1],[0.2934,-0.174],[0.2946,-0.21],
[0.2963,-0.15],[0.2983,-0.052],[0.2995,0.045],[0.3,0.084]
];

// ---------- (d) i_y ----------
const d2Pts = [
[0,-0.07],[0.001,0.046],[0.002,0.061],[0.0029,0.138],[0.0039,0.177],[0.0049,0.191],[0.0055,0.128],[0.0065,0.128],[0.0073,0.099],[0.0084,0.027],[0.0098,-0.017],[0.0108,-0.017],[0.0118,-0.109],[0.0127,-0.104],[0.0137,-0.128],[0.0147,-0.182],
[0.0159,-0.138],[0.0171,-0.104],[0.0183,-0.085],[0.0190,-0.08],[0.0202,0.017],[0.0212,0.061],[0.0222,0.114],[0.0232,0.199],[0.0241,0.148],[0.0251,0.172],[0.0261,0.128],[0.0271,0.114],[0.0285,0.046],[0.0294,-0.005],[0.0304,-0.051],[0.0314,-0.085],[0.0324,-0.123],[0.0344,-0.123],[0.0349,-0.162],
[0.0359,-0.104],[0.0369,-0.056],[0.0379,-0.119],[0.0393,0.007],[0.0402,0.026],[0.0414,0.094],[0.0426,0.16],[0.0432,0.228],[0.0438,0.123],[0.0446,0.162],[0.0457,0.114],[0.0471,0.017],[0.0481,0.007],[0.0497,-0.041],[0.0510,-0.094],[0.0520,-0.109],[0.0534,-0.143],[0.0540,-0.148],
[0.0550,-0.094],[0.0560,-0.07],[0.0571,-0.089],[0.0579,-0.046],[0.0589,-0.002],[0.0599,0.031],[0.0610,0.114],[0.0622,0.157],[0.0634,0.186],[0.0644,0.138],[0.0654,0.138],[0.0663,0.09],[0.0677,0.012],[0.0687,-0.002],[0.0697,-0.046],[0.0709,-0.109],[0.0720,-0.119],[0.0732,-0.128],[0.0742,-0.148],
[0.0756,-0.07],[0.0766,-0.119],[0.0775,-0.051],[0.0785,-0.022],[0.0795,0.031],[0.0807,0.104],[0.0819,0.172],[0.0844,0.199],[0.0854,0.148],[0.0864,0.157],[0.0877,0.09],[0.0889,-0.002],[0.0903,-0.094],[0.0913,-0.119],[0.0923,-0.109],[0.0936,-0.148],
[0.0948,-0.123],[0.0958,-0.123],[0.0968,-0.07],[0.0978,-0.031],[0.0991,0.027],[0.1001,0.036],[0.1013,0.09],[0.1021,0.177],[0.1031,0.172],[0.1041,0.133],[0.1050,0.143],[0.1061,0.114],[0.1074,0.017],[0.1086,-0.022],[0.1099,-0.07],[0.1109,-0.114],[0.1119,-0.109],[0.1129,-0.128],[0.1139,-0.143],
[0.1148,-0.07],[0.1158,-0.109],[0.1168,-0.06],[0.1178,0.027],[0.1188,0.007],[0.1197,0.075],[0.1211,0.157],[0.1223,0.2],[0.1231,0.152],[0.1239,0.172],[0.1247,0.191],[0.1256,0.128],[0.1270,0.027],[0.1286,-0.06],[0.1296,-0.109],[0.1305,-0.109],[0.1315,-0.128],[0.1325,-0.123],[0.1337,-0.153],
[0.1345,-0.08],[0.1354,-0.114],[0.1364,-0.06],[0.1380,0.002],[0.1394,0.007],[0.1404,0.08],[0.1413,0.104],[0.1423,0.167],[0.1433,0.162],[0.1443,0.123],[0.1453,0.118],[0.1462,0.065],[0.1476,-0.002],[0.1492,-0.07],[0.1502,-0.119],[0.1512,-0.109],[0.1521,-0.08],[0.1531,-0.162],
[0.1545,-0.08],[0.1557,-0.08],[0.1565,-0.046],[0.1580,0.027],[0.1592,0.099],[0.1604,0.133],[0.1623,0.167],[0.1635,0.138],[0.1649,0.148],[0.1663,0.09],[0.1674,0.017],[0.1688,-0.06],[0.1698,-0.099],[0.1708,-0.123],[0.1718,-0.114],[0.1727,-0.162],
[0.1737,-0.119],[0.1747,-0.085],[0.1757,-0.056],[0.1769,-0.022],[0.1780,0.056],[0.1792,0.061],[0.1806,0.099],[0.1816,0.157],[0.1828,0.138],[0.1835,0.138],[0.1845,0.123],[0.1855,0.114],[0.1871,0.027],[0.1885,-0.022],[0.1894,-0.07],[0.1906,-0.109],[0.1918,-0.119],[0.1930,-0.148],
[0.1938,-0.119],[0.1949,-0.094],[0.1957,-0.051],[0.1969,0.007],[0.1983,0.056],[0.1996,0.114],[0.2012,0.157],[0.2022,0.138],[0.2032,0.138],[0.2047,0.104],[0.2055,0.094],[0.2067,0.007],[0.2081,-0.041],[0.2090,-0.094],[0.2102,-0.123],[0.2114,-0.123],[0.2126,-0.138],
[0.2134,-0.094],[0.2146,-0.099],[0.2156,-0.051],[0.2165,-0.031],[0.2175,0.007],[0.2189,0.046],[0.2199,0.09],[0.2212,0.138],[0.2224,0.14],[0.2235,0.114],[0.2243,0.09],[0.2257,0.065],[0.2267,0.007],[0.2283,-0.051],[0.2297,-0.109],[0.2307,-0.128],[0.2316,-0.148],[0.2326,-0.167],
[0.2336,-0.119],[0.2346,-0.07],[0.2356,-0.07],[0.2365,0.002],[0.2377,0.046],[0.2389,0.065],[0.2401,0.157],[0.2409,0.167],[0.2421,0.186],[0.2428,0.123],[0.2434,0.128],[0.2444,0.031],[0.2456,0.026],[0.2468,-0.022],[0.2483,-0.07],[0.2493,-0.119],[0.2503,-0.143],[0.2513,-0.172],
[0.2523,-0.138],[0.2533,-0.109],[0.2542,-0.07],[0.2552,-0.027],[0.2562,-0.022],[0.2577,0.027],[0.2591,0.051],[0.2601,0.133],[0.2611,0.157],[0.2621,0.133],[0.2630,0.114],[0.2640,0.104],[0.2656,0.031],[0.2669,0.017],[0.2679,-0.031],[0.2689,-0.094],[0.2699,-0.119],[0.2709,-0.099],[0.2718,-0.162],
[0.2728,-0.109],[0.2738,-0.07],[0.2748,-0.089],[0.2758,-0.031],[0.2768,0.026],[0.2778,0.09],[0.2787,0.138],[0.2797,0.162],[0.2807,0.114],[0.2817,0.133],[0.2826,0.099],[0.2836,0.065],[0.2852,0.002],[0.2866,-0.046],[0.2875,-0.085],[0.2885,-0.099],[0.2895,-0.119],[0.2905,-0.162],
[0.2915,-0.119],[0.2925,-0.051],[0.2934,-0.07],[0.2944,-0.06],[0.2954,0.002],[0.2964,0.075],[0.2974,0.056],[0.2984,0.148],[0.2994,0.162],[0.3,0.153]
];

// ---------- text ----------
const yTitleX = '<i>x</i>/(10<sup>\u22125</sup>m)';
const yTitleY = '<i>y</i>/(10<sup>\u22125</sup>m)';
const yTitleIx = '<i>i</i><sub><i>x</i></sub>/A';
const yTitleIy = '<i>i</i><sub><i>y</i></sub>/A';
const xTitle = '<i>t</i>/s';
const captions = [
  '(a) 2 000 r/min\u65f6\u96f6\u7535\u6d41\u63a7\u5236\u540c\u9891\u4f4d\u79fb\u6ce2\u5f62',
  '(b) 2 000 r/min\u65f6\u96f6\u4f4d\u79fb\u63a7\u5236\u540c\u9891\u7535\u6d41\u6ce2\u5f62',
  '(c) 3 000 r/min\u65f6\u96f6\u7535\u6d41\u63a7\u5236\u540c\u9891\u4f4d\u79fb\u6ce2\u5f62',
  '(d) 3 000 r/min\u65f6\u96f6\u4f4d\u79fb\u63a7\u5236\u540c\u9891\u7535\u6d41\u6ce2\u5f62'
];

// ---------- build ----------
const W = 3241, H = 2550;
const colL = [229 / W, 1530 / W], colR = [1901 / W, 3198 / W];
const rows = [[1 - 438 / H, 1 - 36 / H], [1 - 1016 / H, 1 - 612 / H], [1 - 1716 / H, 1 - 1311 / H], [1 - 2314 / H, 1 - 1906 / H]];
const BLUE = '#1f4fff';
const SERIF = 'Liberation Serif, Times New Roman, serif';
const tickFont = {family: SERIF, size: 60, color: '#000'};

const panels = [
  {pts: a1Pts, col: colL, row: rows[0], xr: [0, 0.5], xt: tickT05, xtt: tickT05Text, yr: [-2, 2], yt: tickDisp, ytt: tickDispText},
  {pts: a2Pts, col: colL, row: rows[1], xr: [0, 0.5], xt: tickT05, xtt: tickT05Text, yr: [-2, 2], yt: tickDisp, ytt: tickDispText},
  {pts: b1Pts, col: colR, row: rows[0], xr: [0, 0.5], xt: tickT05, xtt: tickT05Text, yr: [-0.2, 0.2], yt: tickCur, ytt: tickCurText},
  {pts: b2Pts, col: colR, row: rows[1], xr: [0, 0.5], xt: tickT05, xtt: tickT05Text, yr: [-0.2, 0.2], yt: tickCur, ytt: tickCurText},
  {pts: c1Pts, col: colL, row: rows[2], xr: [0, 0.3], xt: tickT03, xtt: tickT03Text, minor: tickT03Minor, yr: [-3, 3], yt: tickDisp, ytt: tickDispText},
  {pts: c2Pts, col: colL, row: rows[3], xr: [0, 0.3], xt: tickT03, xtt: tickT03Text, minor: tickT03Minor, yr: [-3, 3], yt: tickDisp, ytt: tickDispText},
  {pts: d1Pts, col: colR, row: rows[2], xr: [0, 0.3], xt: tickT03, xtt: tickT03Text, minor: tickT03Minor, yr: [-0.3, 0.3], yt: tickCur, ytt: tickCurText},
  {pts: d2Pts, col: colR, row: rows[3], xr: [0, 0.3], xt: tickT03, xtt: tickT03Text, minor: tickT03Minor, yr: [-0.3, 0.3], yt: tickCur, ytt: tickCurText}
];

const data = [];
const layout = {
  width: W, height: H,
  margin: {l: 0, r: 0, t: 0, b: 0},
  paper_bgcolor: '#fff', plot_bgcolor: '#fff',
  showlegend: false,
  annotations: []
};

panels.forEach((p, i) => {
  const n = i + 1;
  const xa = 'xaxis' + (n === 1 ? '' : n), ya = 'yaxis' + (n === 1 ? '' : n);
  const xid = 'x' + (n === 1 ? '' : n), yid = 'y' + (n === 1 ? '' : n);
  data.push({
    type: 'scatter', mode: 'lines',
    x: p.pts.map(d => d[0]), y: p.pts.map(d => d[1]),
    xaxis: xid, yaxis: yid,
    line: {color: BLUE, width: 4},
    hoverinfo: 'skip'
  });
  const xax = {
    domain: p.col, anchor: yid, range: p.xr, fixedrange: true,
    tickmode: 'array', tickvals: p.xt, ticktext: p.xtt,
    ticks: 'inside', ticklen: 22, tickwidth: 3, tickcolor: '#000',
    showline: true, linewidth: 4, linecolor: '#000', mirror: true,
    showgrid: false, zeroline: false, tickfont: tickFont, ticklabelstandoff: 12,
    ticklabeloverflow: 'allow'
  };
  if (p.minor) {
    xax.minor = {tickmode: 'array', tickvals: p.minor, ticks: 'inside', ticklen: 22, tickwidth: 3, tickcolor: '#000', showgrid: false};
  }
  layout[xa] = xax;
  layout[ya] = {
    domain: p.row, anchor: xid, range: p.yr, fixedrange: true,
    tickmode: 'array', tickvals: p.yt, ticktext: p.ytt,
    ticks: 'inside', ticklen: 12, tickwidth: 4, tickcolor: '#000',
    showline: true, linewidth: 3, linecolor: '#000', mirror: true,
    showgrid: false, zeroline: false, tickfont: tickFont, ticklabelstandoff: 14,
    ticklabeloverflow: 'allow'
  };
});

function ann(text, xpx, ypx, size, angle) {
  return {
    text: text, xref: 'paper', yref: 'paper',
    x: xpx / W, y: 1 - ypx / H, xanchor: 'center', yanchor: 'middle',
    showarrow: false, textangle: angle || 0,
    font: {family: SERIF + ', Noto Sans CJK SC', size: size, color: '#000'}
  };
}
const A = layout.annotations;
// y-axis titles
A.push(ann(yTitleX, 62, 236, 64, -90));
A.push(ann(yTitleY, 62, 814, 64, -90));
A.push(ann(yTitleIx, 1700, 236, 64, -90));
A.push(ann(yTitleIy, 1700, 814, 64, -90));
A.push(ann(yTitleX, 62, 1513, 64, -90));
A.push(ann(yTitleY, 62, 2110, 64, -90));
A.push(ann(yTitleIx, 1700, 1513, 64, -90));
A.push(ann(yTitleIy, 1700, 2110, 64, -90));
// x-axis titles
A.push(ann(xTitle, 877, 544, 60));
A.push(ann(xTitle, 877, 1128, 60));
A.push(ann(xTitle, 2549, 544, 60));
A.push(ann(xTitle, 2549, 1128, 60));
A.push(ann(xTitle, 877, 1835, 60));
A.push(ann(xTitle, 877, 2435, 60));
A.push(ann(xTitle, 2545, 1831, 60));
A.push(ann(xTitle, 2545, 2431, 60));
// captions
A.push(ann(captions[0], 890, 1220, 62));
A.push(ann(captions[1], 2575, 1220, 62));
A.push(ann(captions[2], 890, 2511, 62));
A.push(ann(captions[3], 2575, 2511, 62));

Plotly.newPlot('chart', data, layout, {staticPlot: true, displayModeBar: false});
</script>
</body>
</html>
